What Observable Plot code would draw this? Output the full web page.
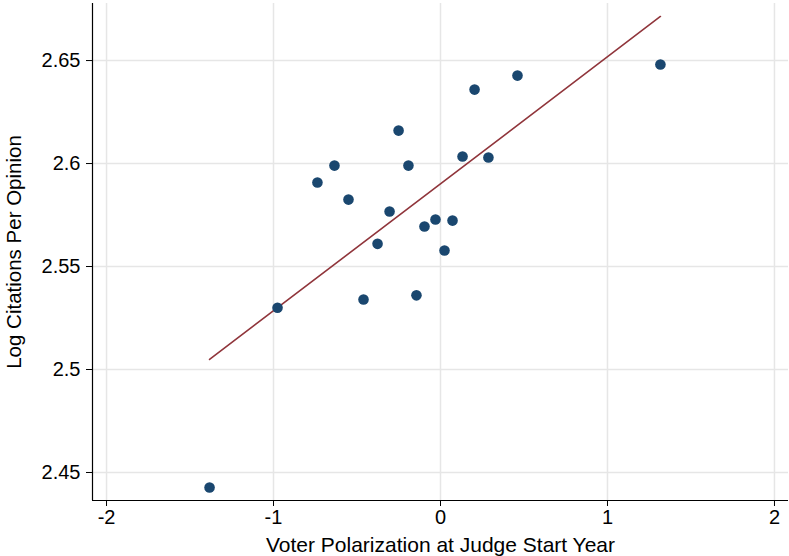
<!DOCTYPE html>
<html>
<head>
<meta charset="utf-8">
<script src="https://cdn.jsdelivr.net/npm/d3@7"></script>
<script src="https://cdn.jsdelivr.net/npm/@observablehq/plot@0.6"></script>
<style>
  html, body { margin: 0; padding: 0; background: #fff; }
  #chart svg { display: block; }
</style>
</head>
<body>
<div id="chart"></div>
<script>
// Binned scatter points
const polarization = [-1.383, -0.976, -0.737, -0.635, -0.551, -0.461, -0.377, -0.305, -0.251, -0.192,
                      -0.144, -0.096, -0.030, 0.024, 0.072, 0.132, 0.204, 0.287, 0.461, 1.317];
const logCitations = [2.4427, 2.5300, 2.5908, 2.5990, 2.5825, 2.5340, 2.5610, 2.5767, 2.6160, 2.5990,
                      2.5360, 2.5694, 2.5728, 2.5578, 2.5723, 2.6034, 2.6359, 2.6029, 2.6427, 2.6481];
// Fitted line endpoints
const fitX = [-1.383, 1.317];
const fitY = [2.5049, 2.6714];
// Tick labels
const xTicks = [-2, -1, 0, 1, 2];
const yTicks = [2.45, 2.5, 2.55, 2.6, 2.65];

const points = polarization.map((x, i) => ({x, y: logCitations[i]}));
const fit = fitX.map((x, i) => ({x, y: fitY[i]}));

const chart = Plot.plot({
  width: 789,
  height: 556,
  marginLeft: 92,
  marginRight: 1,
  marginTop: 3,
  marginBottom: 56,
  style: {fontFamily: "'Liberation Sans', Arial, sans-serif", fontSize: "20px", color: "#000", background: "#fff"},
  x: {domain: [-2.084, 2.084], ticks: xTicks},
  y: {domain: [2.4364, 2.6777], ticks: yTicks},
  marks: [
    Plot.gridX(xTicks, {stroke: "#e6e6e6", strokeOpacity: 1, strokeWidth: 1.5}),
    Plot.gridY(yTicks, {stroke: "#e6e6e6", strokeOpacity: 1, strokeWidth: 1.5}),
    Plot.axisX(xTicks, {tickSize: 6, tickPadding: 3, fontSize: 20, tickFormat: d => String(d),
      label: null}),
    Plot.axisX({label: "Voter Polarization at Judge Start Year", labelAnchor: "center", labelArrow: "none",
      labelOffset: 51, ticks: [], tickSize: 0, fontSize: 21}),
    Plot.axisY(yTicks, {tickSize: 6, tickPadding: 6, fontSize: 20, tickFormat: d => String(d),
      label: null}),
    Plot.axisY({label: "Log Citations Per Opinion", labelAnchor: "center", labelArrow: "none",
      labelOffset: 86, ticks: [], tickSize: 0, fontSize: 20.5}),
    Plot.ruleY([2.4364], {stroke: "#000", strokeWidth: 1.2}),
    Plot.ruleX([-2.084], {stroke: "#000", strokeWidth: 1.2}),
    Plot.line(fit, {x: "x", y: "y", stroke: "#90353b", strokeWidth: 1.6}),
    Plot.dot(points, {x: "x", y: "y", r: 5.3, fill: "#1a476f", stroke: "none"})
  ]
});
document.getElementById("chart").appendChild(chart);
</script>
</body>
</html>
